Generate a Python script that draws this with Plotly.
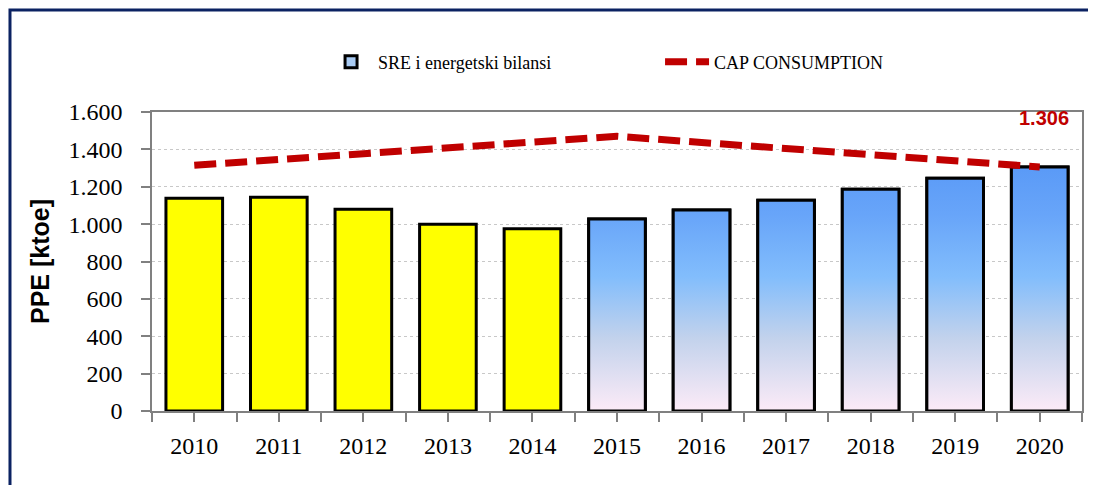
import plotly.graph_objects as go

years = [2010, 2011, 2012, 2013, 2014, 2015, 2016, 2017, 2018, 2019, 2020]
hist_years = [2010, 2011, 2012, 2013, 2014]
hist_values = [1139, 1144, 1080, 1000, 975]
proj_years = [2015, 2016, 2017, 2018, 2019, 2020]
proj_values = [1027, 1076, 1128, 1187, 1246, 1306]
cap_values = [1315, 1346, 1377, 1408, 1439, 1470, 1437, 1404, 1372, 1339, 1306]
y_ticks = [0, 200, 400, 600, 800, 1000, 1200, 1400, 1600]
label_text = "1.306"

BAR_W = 0.67
SERIF = "Liberation Serif, Times New Roman, serif"
SANS = "Liberation Sans, Arial, sans-serif"

fig = go.Figure()

fig.add_trace(go.Bar(
    x=hist_years, y=hist_values, width=BAR_W,
    marker=dict(color="#FFFF00", line=dict(color="#000000", width=3)),
    showlegend=False, hoverinfo="x+y",
))

fig.add_trace(go.Bar(
    x=proj_years, y=proj_values, width=BAR_W,
    name="SRE i energetski bilansi",
    marker=dict(color="#A9CBF3", line=dict(color="#000000", width=3)),
    showlegend=True, hoverinfo="x+y",
))

# gradient fill overlay for projected bars, built from the same data
gx, gy = [], []
for yr, v in zip(proj_years, proj_values):
    h = BAR_W / 2
    gx += [yr - h, yr + h, yr + h, yr - h, yr - h, None]
    gy += [0, 0, v, v, 0, None]
fig.add_trace(go.Scatter(
    x=gx, y=gy, mode="lines", fill="toself",
    line=dict(color="#000000", width=3),
    fillgradient=dict(
        type="vertical", start=0, stop=max(proj_values),
        colorscale=[[0, "#FCEBF7"], [0.3, "#C2D2EC"], [0.55, "#82BDFC"],
                    [0.8, "#68A5F9"], [1, "#5A9AF7"]],
    ),
    showlegend=False, hoverinfo="skip",
))

fig.add_trace(go.Scatter(
    x=years, y=cap_values, mode="lines",
    name="CAP CONSUMPTION",
    line=dict(color="#C00000", width=7, dash="22px,9px"),
))

fig.add_annotation(
    x=years[-1], xref="x", y=1.023, yref="paper",
    text="<b>%s</b>" % label_text, showarrow=False,
    xshift=4, font=dict(family=SANS, size=20, color="#C00000"),
)

# outer navy frame
fig.add_shape(
    type="rect", xref="paper", yref="paper",
    x0=-0.1527, x1=1.2, y0=-0.6, y1=1.341,
    line=dict(color="#0B2262", width=3), fillcolor="rgba(0,0,0,0)",
    layer="below",
)

fig.update_layout(
    width=1096, height=485,
    margin=dict(l=144, r=22, t=104, b=82),
    paper_bgcolor="#FFFFFF", plot_bgcolor="#FFFFFF",
    separators=",.",
    barmode="overlay",
    legend=dict(
        orientation="h", x=0.185, xanchor="left", y=1.167, yanchor="middle",
        font=dict(family=SERIF, size=18, color="#000000"),
        entrywidth=277, itemwidth=44, traceorder="normal",
        bgcolor="rgba(0,0,0,0)",
    ),
    xaxis=dict(
        range=[2009.5, 2020.5], tickvals=years, ticks="",
        tickfont=dict(family=SERIF, size=24, color="#000000"),
        showgrid=False, zeroline=False,
        showline=True, linecolor="#808080", linewidth=1.5, mirror=True,
        ticklabelstandoff=12,
        minor=dict(dtick=0.5, tick0=2009.5, ticks="outside", ticklen=9,
                   tickcolor="#808080", tickwidth=1.5, showgrid=False),
    ),
    yaxis=dict(
        range=[0, 1600], tickvals=y_ticks, tickformat=",d",
        ticks="outside", ticklen=9, tickcolor="#808080", tickwidth=1.5,
        tickfont=dict(family=SERIF, size=24, color="#000000"),
        showgrid=True, gridcolor="#C8C8C8", griddash="dot", gridwidth=1,
        zeroline=False,
        showline=True, linecolor="#808080", linewidth=1.5, mirror=True,
        ticklabelstandoff=14,
        title=dict(text="<b>PPE [ktoe]</b>", standoff=12,
                   font=dict(family=SANS, size=25, color="#000000")),
    ),
)

fig.write_html("out.html")
